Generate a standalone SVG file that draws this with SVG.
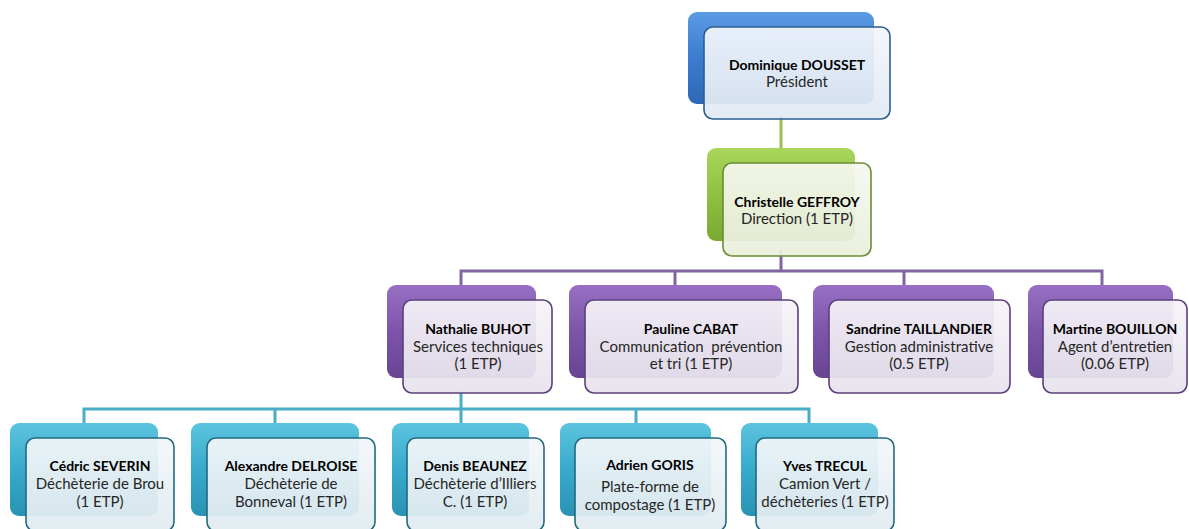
<svg xmlns="http://www.w3.org/2000/svg" width="1189" height="529" viewBox="0 0 1189 529">
<defs>
<linearGradient id="gBlue" x1="0" y1="0" x2="0" y2="1"><stop offset="0" stop-color="#5b9be3"/><stop offset="0.5" stop-color="#3c7cd0"/><stop offset="1" stop-color="#2c68b6"/></linearGradient>
<linearGradient id="gGreen" x1="0" y1="0" x2="0" y2="1"><stop offset="0" stop-color="#a9d65a"/><stop offset="0.5" stop-color="#90c140"/><stop offset="1" stop-color="#7aa930"/></linearGradient>
<linearGradient id="gPurple" x1="0" y1="0" x2="0" y2="1"><stop offset="0" stop-color="#9770c4"/><stop offset="0.5" stop-color="#7c55aa"/><stop offset="1" stop-color="#684392"/></linearGradient>
<linearGradient id="gCyan" x1="0" y1="0" x2="0" y2="1"><stop offset="0" stop-color="#5cc4e0"/><stop offset="0.5" stop-color="#38aacb"/><stop offset="1" stop-color="#2993b3"/></linearGradient>
<linearGradient id="fBlue" x1="0" y1="0" x2="0" y2="1"><stop offset="0" stop-color="#f3f6fb"/><stop offset="1" stop-color="#e1e9f4"/></linearGradient>
<linearGradient id="fGreen" x1="0" y1="0" x2="0" y2="1"><stop offset="0" stop-color="#f6f8f0"/><stop offset="1" stop-color="#e9efdc"/></linearGradient>
<linearGradient id="fPurple" x1="0" y1="0" x2="0" y2="1"><stop offset="0" stop-color="#f6f4f8"/><stop offset="1" stop-color="#e7e2ed"/></linearGradient>
<linearGradient id="fCyan" x1="0" y1="0" x2="0" y2="1"><stop offset="0" stop-color="#f3f7f9"/><stop offset="1" stop-color="#e0ebf0"/></linearGradient>
</defs>
<style>
.front{stroke-width:1.6;fill-opacity:0.93}
.b .back{fill:url(#gBlue)} .b .front{fill:url(#fBlue);stroke:#2d5e92}
.g .back{fill:url(#gGreen)} .g .front{fill:url(#fGreen);stroke:#6a8c36}
.p .back{fill:url(#gPurple)} .p .front{fill:url(#fPurple);stroke:#5b3f7c}
.c .back{fill:url(#gCyan)} .c .front{fill:url(#fCyan);stroke:#22697f}
text{font-family:Lato,"Liberation Sans",sans-serif;font-size:15px;fill:#262626;text-anchor:middle}
.n{font-weight:bold;font-size:14px;fill:#000}
.conn path{fill:none;stroke-width:3}
</style>
<g id="connectors" class="conn">
<path d="M781 115 V150" stroke="#9bbb59"/>
<path d="M781 250 V271 M461 288 V271 H1102 V288 M675 271 V288 M904 271 V288" stroke="#8064a2"/>
<path d="M461 390 V409 M84 425 V409 H809 V425 M275 409 V425 M461 409 V425 M636 409 V425" stroke="#4bacc6"/>
</g>
<g id="dousset" class="b">
<rect class="back" x="688" y="12" width="186" height="92" rx="9"/>
<rect class="front" x="704" y="27" width="186" height="92" rx="9"/>
<text x="797" y="70" class="n">Dominique DOUSSET</text>
<text x="797" y="87">Président</text>
</g>
<g id="geffroy" class="g">
<rect class="back" x="707" y="148" width="148" height="93" rx="9"/>
<rect class="front" x="723" y="163" width="148" height="93" rx="9"/>
<text x="797" y="207" class="n">Christelle GEFFROY</text>
<text x="797" y="224">Direction (1 ETP)</text>
</g>
<g id="buhot" class="p">
<rect class="back" x="387" y="285" width="149" height="93" rx="9"/>
<rect class="front" x="403" y="300" width="149" height="93" rx="9"/>
<text x="478" y="334" class="n">Nathalie BUHOT</text>
<text x="478" y="352">Services techniques</text>
<text x="478" y="369">(1 ETP)</text>
</g>
<g id="cabat" class="p">
<rect class="back" x="569" y="285" width="213" height="93" rx="9"/>
<rect class="front" x="585" y="300" width="213" height="93" rx="9"/>
<text x="691" y="334" class="n">Pauline CABAT</text>
<text x="691" y="352" xml:space="preserve">Communication  prévention</text>
<text x="691" y="369">et tri (1 ETP)</text>
</g>
<g id="taillandier" class="p">
<rect class="back" x="813" y="285" width="181" height="93" rx="9"/>
<rect class="front" x="829" y="300" width="181" height="93" rx="9"/>
<text x="919" y="334" class="n">Sandrine TAILLANDIER</text>
<text x="919" y="352">Gestion administrative</text>
<text x="919" y="369">(0.5 ETP)</text>
</g>
<g id="bouillon" class="p">
<rect class="back" x="1028" y="285" width="145" height="93" rx="9"/>
<rect class="front" x="1043" y="300" width="144" height="93" rx="9"/>
<text x="1115" y="334" class="n">Martine BOUILLON</text>
<text x="1115" y="352">Agent d’entretien</text>
<text x="1115" y="369">(0.06 ETP)</text>
</g>
<g id="severin" class="c">
<rect class="back" x="10" y="423" width="148" height="93" rx="9"/>
<rect class="front" x="26" y="438" width="148" height="93" rx="9"/>
<text x="100" y="471" class="n">Cédric SEVERIN</text>
<text x="100" y="489">Déchèterie de Brou</text>
<text x="100" y="507">(1 ETP)</text>
</g>
<g id="delroise" class="c">
<rect class="back" x="191" y="423" width="168" height="93" rx="9"/>
<rect class="front" x="207" y="438" width="168" height="93" rx="9"/>
<text x="291" y="471" class="n">Alexandre DELROISE</text>
<text x="291" y="489">Déchèterie de</text>
<text x="291" y="507">Bonneval (1 ETP)</text>
</g>
<g id="beaunez" class="c">
<rect class="back" x="392" y="423" width="137" height="93" rx="9"/>
<rect class="front" x="407" y="438" width="137" height="93" rx="9"/>
<text x="475" y="471" class="n">Denis BEAUNEZ</text>
<text x="475" y="489">Déchèterie d’Illiers</text>
<text x="475" y="507">C. (1 ETP)</text>
</g>
<g id="goris" class="c">
<rect class="back" x="560" y="423" width="151" height="93" rx="9"/>
<rect class="front" x="575" y="438" width="151" height="93" rx="9"/>
<text x="650" y="470" class="n">Adrien GORIS</text>
<text x="650" y="492">Plate-forme de</text>
<text x="650" y="510">compostage (1 ETP)</text>
</g>
<g id="trecul" class="c">
<rect class="back" x="741" y="423" width="137" height="93" rx="9"/>
<rect class="front" x="756" y="438" width="138" height="93" rx="9"/>
<text x="825" y="471" class="n">Yves TRECUL</text>
<text x="825" y="489">Camion Vert /</text>
<text x="825" y="507">déchèteries (1 ETP)</text>
</g>
</svg>
